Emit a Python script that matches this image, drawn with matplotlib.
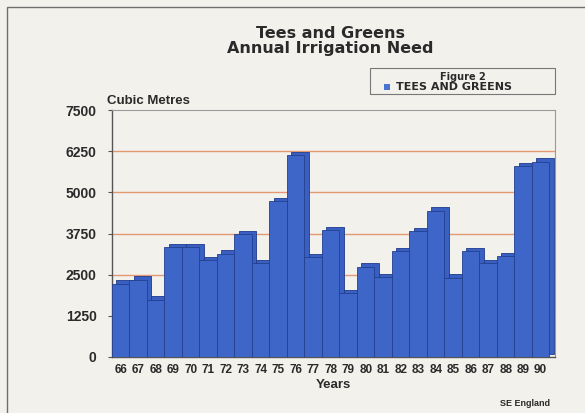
import matplotlib
matplotlib.use("Agg")
import matplotlib.pyplot as plt
import matplotlib.transforms as mtransforms
from matplotlib.patches import Rectangle

years = [66, 67, 68, 69, 70, 71, 72, 73, 74, 75, 76, 77, 78, 79, 80, 81, 82, 83, 84, 85, 86, 87, 88, 89, 90]
values = [2230, 2350, 1740, 3345, 3330, 2940, 3140, 3730, 2840, 4730, 6130,
          3040, 3850, 1930, 2740, 2430, 3220, 3830, 4440, 2410, 3220, 2840, 3060, 5800, 5930]
yticks = [0, 1250, 2500, 3750, 5000, 6250, 7500]
title_lines = ["Tees and Greens", "Annual Irrigation Need"]
series_name = "TEES AND GREENS"

plt.rcParams['font.family'] = ['Liberation Sans', 'DejaVu Sans']
plt.rcParams['font.weight'] = 'bold'

bg = '#f3f1ec'
txt = '#2a2a2a'
fig = plt.figure(figsize=(5.85, 4.13), dpi=100, facecolor=bg)

# outer frame of the figure panel
fig.add_artist(Rectangle((7/585, -0.02), 1.2, 1 - 7/413 + 0.02, transform=fig.transFigure,
                         fill=False, edgecolor='#6e6e6e', linewidth=1.0))

ax = fig.add_axes([112/585, 1 - 357/413, (555 - 112)/585, (357 - 110)/413])
ax.set_facecolor(bg)

ax.set_xlim(65.5, 90.82)
ax.set_ylim(0, 7500)

# back-wall gridlines
for t in yticks[1:-1]:
    ax.axhline(t, color='#e39a72', linewidth=1.0, zorder=0)

# 3D depth effect: shifted bar behind the front bar
offset = mtransforms.ScaledTranslation(3.0/72, 2.4/72, fig.dpi_scale_trans)
ax.bar(years, values, width=1.0, color='#3a5fc2', edgecolor='#1f3a8a', linewidth=0.6,
       transform=ax.transData + offset, zorder=2)
ax.bar(years, values, width=1.0, color='#3e66c9', edgecolor='#24408f', linewidth=0.6, zorder=3)

ax.set_yticks(yticks)
ax.set_yticklabels([str(t) for t in yticks], fontsize=10, fontweight='bold', color=txt)
ax.set_xticks(years)
ax.set_xticklabels([str(y) for y in years], fontsize=8.5, fontweight='bold', color=txt)
ax.tick_params(axis='x', length=0, pad=5)
ax.tick_params(axis='y', length=3, direction='out', color='#555555', pad=8)

for s in ['top', 'right']:
    ax.spines[s].set_color('#9a9a9a')
    ax.spines[s].set_linewidth(0.8)
for s in ['left', 'bottom']:
    ax.spines[s].set_color('#555555')
    ax.spines[s].set_linewidth(1.0)

ax.set_xlabel('Years', fontsize=9.5, fontweight='bold', color=txt, labelpad=2)

ax.text(-0.012, 1.012, 'Cubic Metres', transform=ax.transAxes, fontsize=9.5,
        fontweight='bold', color=txt, ha='left', va='bottom')

# title
fig.text(330/585, 1 - 34/413, title_lines[0], ha='center', va='center', fontsize=11.5,
         fontweight='bold', color=txt, family='DejaVu Sans')
fig.text(330/585, 1 - 48/413, title_lines[1], ha='center', va='center', fontsize=11.5,
         fontweight='bold', color=txt, family='DejaVu Sans')

# legend box
fig.add_artist(Rectangle((370/585, 1 - 94/413), (555 - 370)/585, 26/413, transform=fig.transFigure,
                         facecolor=bg, edgecolor='#777777', linewidth=0.8))
fig.text(463/585, 1 - 76.5/413, 'Figure 2', ha='center', va='center', fontsize=7,
         fontweight='bold', color=txt, family='DejaVu Sans')
fig.add_artist(Rectangle((384/585, 1 - 90/413), 6/585, 6/413, transform=fig.transFigure,
                         facecolor='#4a74d0', edgecolor='none'))
fig.text(396/585, 1 - 87/413, series_name, ha='left', va='center', fontsize=8,
         fontweight='bold', color=txt, family='DejaVu Sans')

fig.text(550/585, 1 - 404/413, 'SE England', ha='right', va='center', fontsize=6.5,
         fontweight='bold', color=txt)

fig.savefig('out.png', dpi=100, facecolor=bg)
